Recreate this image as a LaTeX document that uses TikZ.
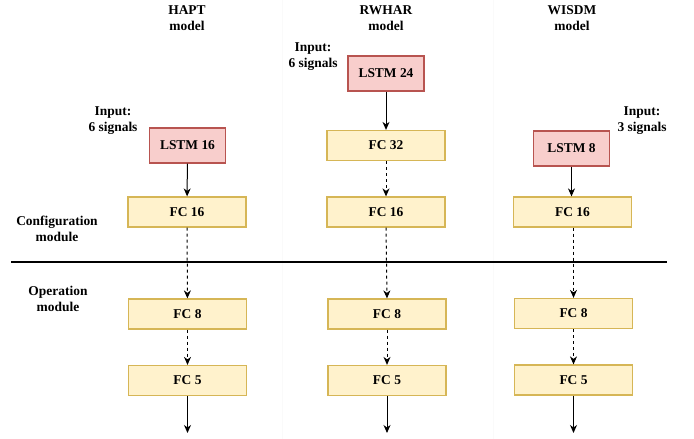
\documentclass[tikz,border=0pt]{standalone}
\usepackage{fontspec}
\setmainfont{Liberation Serif}
\usetikzlibrary{arrows.meta}
\definecolor{lstmfill}{HTML}{F8CECC}
\definecolor{lstmline}{HTML}{B85450}
\definecolor{fcfill}{HTML}{FFF2CC}
\definecolor{fcline}{HTML}{D6B656}

\begin{document}
\begin{tikzpicture}[x=1bp, y=-1bp,
		font=\fontsize{13.5}{16}\selectfont\bfseries,
		lstm/.style={draw=lstmline, fill=lstmfill, line width=1.2bp,
			minimum width=76bp, minimum height=35bp, inner sep=0pt},
		fc/.style={draw=fcline, fill=fcfill, line width=1.2bp,
			minimum width=118bp, minimum height=30bp, inner sep=0pt},
		lbl/.style={align=center, inner sep=0pt},
		flow/.style={-{Stealth[length=8bp, width=7bp, inset=2.5bp]}, line width=1bp},
		skip/.style={flow, dashed, dash pattern=on 3bp off 3bp}]
		\useasboundingbox (0, 0) rectangle (694, 439);

		% faint column separators
		\draw[black!2] (282, 0) -- (282, 439);
		\draw[black!2] (493, 0) -- (493, 439);

		% titles
		\node[lbl] (hapt) at (187, 18) {HAPT\\model};
		\node[lbl] (rwhar) at (386, 18) {RWHAR\\model};
		\node[lbl] (wisdm) at (572, 18) {WISDM\\model};

		\node[lbl] (hapt in) at (113, 121) {Input:\\6 signals};
		\node[lbl] (rwhar in) at (313, 57) {Input:\\6 signals};
		\node[lbl] (wisdm in) at (642, 121) {Input:\\3 signals};

		\node[lbl] (config) at (57, 229) {Configuration\\module};
		\node[lbl] (oper) at (58, 299) {Operation\\module};

		% HAPT
		\node[lstm] (hapt lstm) at (187.5, 145.5) {LSTM 16};
		\node[fc] (hapt fc16) at (187, 212) {FC 16};
		\node[fc] (hapt fc8) at (187.5, 314) {FC 8};
		\node[fc] (hapt fc5) at (187.5, 380.5) {FC 5};
		\coordinate (hapt out) at (187.5, 433);

		% RWHAR
		\node[lstm] (rwhar lstm) at (386, 73.5) {LSTM 24};
		\node[fc] (rwhar fc32) at (386, 145.5) {FC 32};
		\node[fc] (rwhar fc16) at (386, 212) {FC 16};
		\node[fc] (rwhar fc8) at (387, 314) {FC 8};
		\node[fc] (rwhar fc5) at (387, 380.5) {FC 5};
		\coordinate (rwhar out) at (387, 433);

		% WISDM
		\node[lstm] (wisdm lstm) at (571.5, 148.5) {LSTM 8};
		\node[fc] (wisdm fc16) at (572.5, 212) {FC 16};
		\node[fc] (wisdm fc8) at (573.5, 313.5) {FC 8};
		\node[fc] (wisdm fc5) at (573.5, 380) {FC 5};
		\coordinate (wisdm out) at (573.5, 433);

		% module border
		\coordinate (split l) at (11, 262);
		\coordinate (split r) at (667, 262);
		\draw[line width=2bp] (split l) -- (split r);

		\draw[flow] (hapt lstm) -- (hapt fc16);
		\draw[skip] (hapt fc16) -- (hapt fc8);
		\draw[skip] (hapt fc8) -- (hapt fc5);
		\draw[flow] (hapt fc5) -- (hapt out);

		\draw[flow] (rwhar lstm) -- (rwhar fc32);
		\draw[skip] (rwhar fc32) -- (rwhar fc16);
		\draw[skip] (rwhar fc16.south) -- (rwhar fc8.north);
		\draw[skip] (rwhar fc8) -- (rwhar fc5);
		\draw[flow] (rwhar fc5) -- (rwhar out);

		\draw[flow] (wisdm lstm) -- (wisdm lstm |- wisdm fc16.north);
		\draw[skip] (wisdm fc16.south -| wisdm fc8) -- (wisdm fc8);
		\draw[skip] (wisdm fc8) -- (wisdm fc5);
		\draw[flow] (wisdm fc5) -- (wisdm out);
	\end{tikzpicture}
\end{document}
